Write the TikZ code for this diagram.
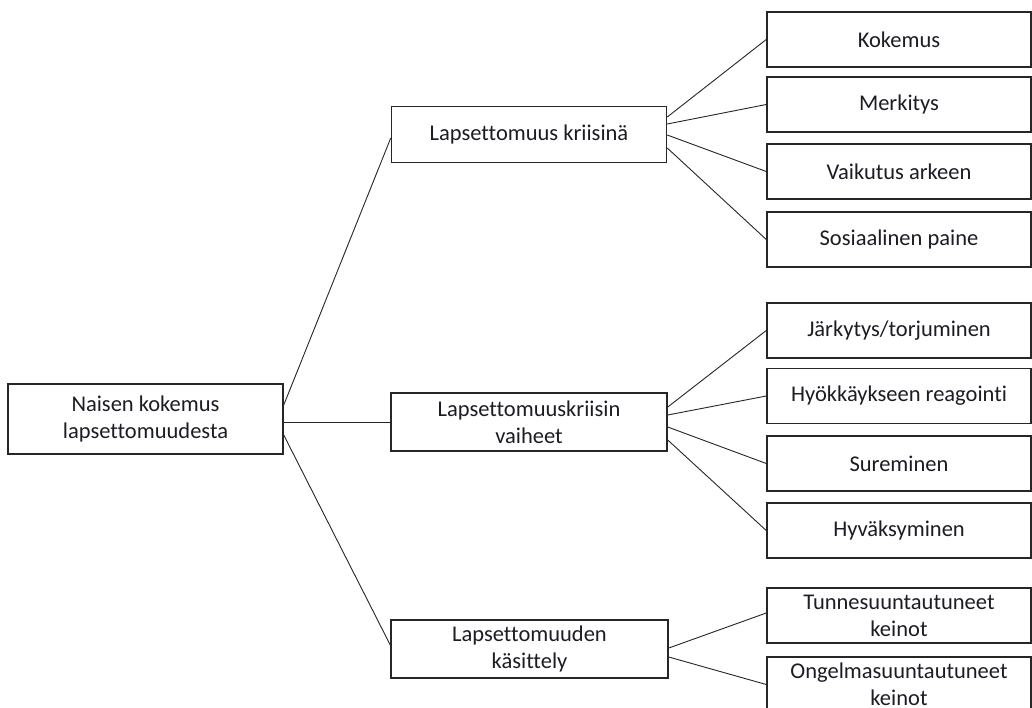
\documentclass[tikz,border=0pt]{standalone}
\usepackage{fontspec}
\setmainfont[Ligatures=NoCommon]{Carlito}
\usetikzlibrary{calc}
\definecolor{txt}{HTML}{1C1C24}
\begin{document}
\begin{tikzpicture}[x=1pt,y=-1pt,
  box/.style={draw=black!85, line width=1.5pt, minimum width=275pt, minimum height=56pt, inner sep=0pt, align=center, font=\fontsize{22.5}{27}\selectfont, text=txt},
  leaf/.style={box, minimum width=264pt, minimum height=55pt},
  link/.style={line width=0.9pt, draw=black!85}]
\clip (0,0) rectangle (1032,707);
\fill[white] (0,0) rectangle (1032,707);
% root and middle level
\node[box, minimum height=70pt] (root) at (145.5,419) {Naisen kokemus\\lapsettomuudesta};
\node[box] (m1) at (529,134.5) {Lapsettomuus kriisinä};
\node[box, minimum width=276pt, minimum height=58pt] (m2) at (529,422) {Lapsettomuuskriisin\\vaiheet};
\node[box, minimum width=277pt, minimum height=58pt] (m3) at (529.5,649) {Lapsettomuuden\\käsittely};
% leaves
\node[leaf] (l1) at (899,39.5) {Kokemus};
\node[leaf] (l2) at (899,104.5) {Merkitys};
\node[leaf] (l3) at (899,171.5) {Vaikutus arkeen};
\node[leaf] (l4) at (899,239.5) {Sosiaalinen paine};
\node[leaf] (l5) at (899,330.5) {Järkytys/torjuminen};
\node[leaf] (l6) at (899,396) {Hyökkäykseen reagointi};
\node[leaf] (l7) at (899,463.5) {Sureminen};
\node[leaf] (l8) at (899,530.5) {Hyväksyminen};
\node[leaf] (l9) at (899,615.5) {Tunnesuuntautuneet\\keinot};
\node[leaf] (l10) at (899,684.5) {Ongelmasuuntautuneet\\keinot};
% connectors root
\draw[link] ($(root.east)+(0,-14)$) -- ($(m1.west)+(0,3.5)$);
\draw[link] ($(root.east)+(0,3)$) -- (m2.west);
\draw[link] ($(root.east)+(0,16)$) -- ($(m3.west)+(0,-4)$);
% connectors m1
\draw[link] ($(m1.east)+(0,-17.5)$) -- (l1.west);
\draw[link] ($(m1.east)+(0,-10.5)$) -- (l2.west);
\draw[link] ($(m1.east)+(0,0.5)$) -- (l3.west);
\draw[link] ($(m1.east)+(0,13.5)$) -- (l4.west);
% connectors m2
\draw[link] ($(m2.east)+(0,-15)$) -- (l5.west);
\draw[link] ($(m2.east)+(0,-7)$) -- (l6.west);
\draw[link] ($(m2.east)+(0,5)$) -- (l7.west);
\draw[link] ($(m2.east)+(0,18)$) -- (l8.west);
% connectors m3
\draw[link] ($(m3.east)+(0,-1)$) -- ($(l9.west)+(0,-2.5)$);
\draw[link] ($(m3.east)+(0,8)$) -- (l10.west);
\end{tikzpicture}
\end{document}
